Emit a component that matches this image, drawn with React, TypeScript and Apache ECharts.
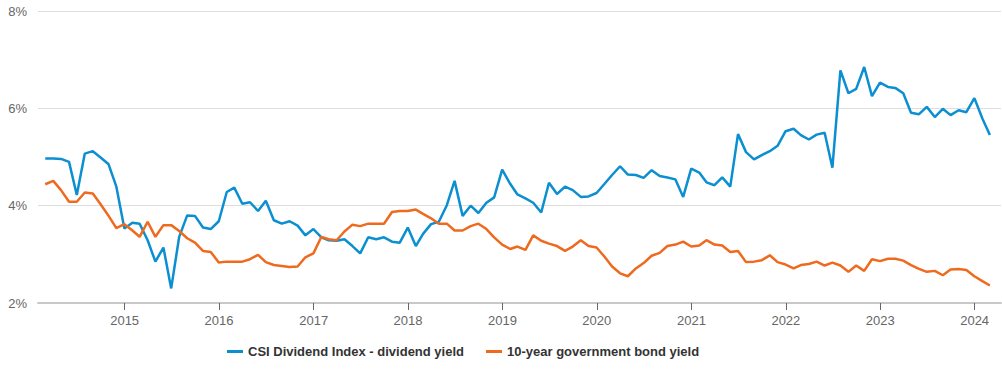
import React, { useEffect, useRef } from "react";
import * as echarts from "echarts";

// Month-end observations, starting Feb 2014
const START_YEAR = 2014;
const START_MONTH = 2; // February (1-based)

const seriesNames = ["CSI Dividend Index - dividend yield", "10-year government bond yield"];

const dividendYield = [
  4.97, 4.97, 4.96, 4.90, 4.22, 5.07, 5.12, 4.99, 4.85, 4.39,
  3.53, 3.65, 3.63, 3.29, 2.85, 3.14, 2.30, 3.36, 3.80, 3.79,
  3.55, 3.52, 3.68, 4.28, 4.37, 4.04, 4.07, 3.89, 4.10, 3.70,
  3.63, 3.68, 3.59, 3.39, 3.52, 3.35, 3.29, 3.28, 3.31, 3.17,
  3.02, 3.35, 3.31, 3.35, 3.26, 3.24, 3.55, 3.17, 3.42, 3.62,
  3.67, 4.01, 4.51, 3.79, 4.00, 3.85, 4.06, 4.17, 4.74, 4.45,
  4.23, 4.15, 4.06, 3.86, 4.47, 4.24, 4.39, 4.32, 4.18, 4.19,
  4.26, 4.45, 4.63, 4.81, 4.64, 4.63, 4.57, 4.73, 4.61, 4.58,
  4.54, 4.18, 4.76, 4.68, 4.48, 4.42, 4.58, 4.39, 5.47, 5.10,
  4.95, 5.04, 5.12, 5.23, 5.53, 5.58, 5.45, 5.36, 5.46, 5.50,
  4.78, 6.78, 6.31, 6.40, 6.85, 6.25, 6.53, 6.44, 6.42, 6.31,
  5.91, 5.88, 6.03, 5.82, 5.99, 5.86, 5.96, 5.92, 6.21, 5.79,
  5.45,
];

const bondYield = [
  4.44, 4.51, 4.32, 4.08, 4.08, 4.27, 4.25, 4.03, 3.79, 3.54,
  3.62, 3.49, 3.36, 3.67, 3.36, 3.60, 3.60, 3.48, 3.33, 3.24,
  3.07, 3.05, 2.83, 2.85, 2.85, 2.85, 2.90, 2.99, 2.84, 2.78,
  2.76, 2.74, 2.75, 2.94, 3.02, 3.36, 3.31, 3.29, 3.47, 3.61,
  3.58, 3.63, 3.63, 3.63, 3.87, 3.89, 3.89, 3.92, 3.83, 3.74,
  3.63, 3.63, 3.49, 3.49, 3.58, 3.63, 3.52, 3.35, 3.20, 3.11,
  3.16, 3.09, 3.39, 3.28, 3.22, 3.17, 3.07, 3.16, 3.29, 3.17,
  3.14, 2.95, 2.75, 2.61, 2.55, 2.71, 2.82, 2.97, 3.03, 3.17,
  3.20, 3.26, 3.16, 3.18, 3.29, 3.20, 3.18, 3.05, 3.07, 2.84,
  2.85, 2.88, 2.98, 2.84, 2.79, 2.71, 2.78, 2.80, 2.85, 2.77,
  2.83, 2.77, 2.64, 2.77, 2.66, 2.90, 2.86, 2.91, 2.91, 2.87,
  2.78, 2.70, 2.64, 2.66, 2.57, 2.69, 2.70, 2.68, 2.55, 2.45,
  2.36,
];

const yTicks = [2, 4, 6, 8];

const monthEnd = (k: number) => Date.UTC(START_YEAR, START_MONTH + k, 0);

export default function App() {
  const ref = useRef<HTMLDivElement>(null);

  useEffect(() => {
    if (!ref.current) return;
    const chart = echarts.init(ref.current, null, { renderer: "svg" });
    const blueData = dividendYield.map((v, i) => [monthEnd(i), v]);
    const orangeData = bondYield.map((v, i) => [monthEnd(i), v]);
    const font = "Arial, 'Liberation Sans', sans-serif";

    chart.setOption({
      animation: false,
      grid: { left: 38, right: 1, top: 11, bottom: 70, containLabel: false },
      legend: {
        top: 345,
        left: 227,
        padding: 0,
        itemWidth: 16,
        itemHeight: 3,
        itemGap: 22,
        data: seriesNames.map((n) => ({ name: n, icon: "rect" })),
        textStyle: { fontSize: 13, fontWeight: "bold", color: "#333", fontFamily: font },
      },
      xAxis: {
        type: "time",
        min: Date.UTC(2014, 0, 31),
        max: Date.UTC(2024, 3, 12),
        minInterval: 365 * 24 * 3600 * 1000,
        maxInterval: 366 * 24 * 3600 * 1000,
        axisLine: { show: true, lineStyle: { color: "#c8c8c8", width: 2 } },
        axisTick: { show: true, length: 7, lineStyle: { color: "#666", width: 1 } },
        splitLine: { show: false },
        axisLabel: {
          formatter: "{yyyy}",
          color: "#666",
          fontSize: 13,
          fontFamily: font,
          margin: 11,
          showMinLabel: false,
          showMaxLabel: false,
        },
      },
      yAxis: {
        type: "value",
        min: yTicks[0],
        max: yTicks[yTicks.length - 1],
        interval: 2,
        axisLine: { show: false },
        axisTick: { show: false },
        splitLine: { lineStyle: { color: "#dedede", width: 1 } },
        axisLabel: {
          formatter: "{value}%",
          color: "#666",
          fontSize: 13,
          fontFamily: font,
          margin: 11,
        },
      },
      series: [
        {
          name: seriesNames[0],
          type: "line",
          data: blueData,
          showSymbol: false,
          symbol: "none",
          color: "#0b8fd1",
          lineStyle: { width: 2.5, color: "#0b8fd1" },
        },
        {
          name: seriesNames[1],
          type: "line",
          data: orangeData,
          showSymbol: false,
          symbol: "none",
          color: "#ee6a1f",
          lineStyle: { width: 2.5, color: "#ee6a1f" },
        },
      ],
    });
    return () => chart.dispose();
  }, []);

  return (
    <div
      ref={ref}
      style={{ position: "fixed", left: 0, top: 0, width: 1002, height: 373, background: "#fff" }}
    />
  );
}
